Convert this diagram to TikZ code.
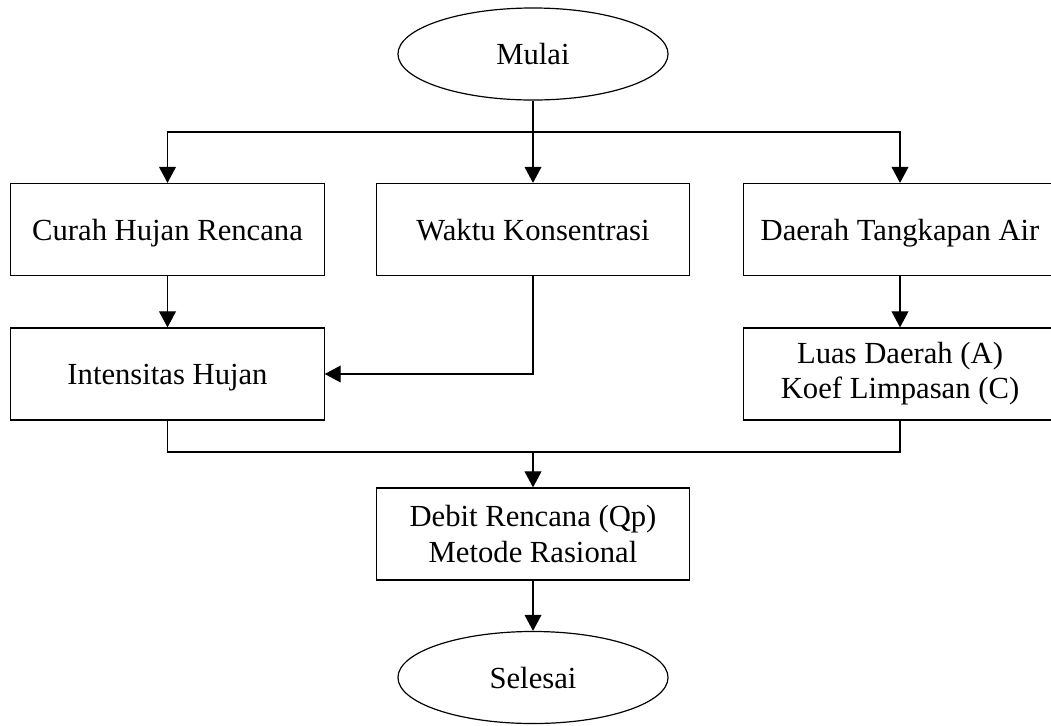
\documentclass[tikz,border=0pt]{standalone}
\usepackage{fontspec}
\setmainfont{Liberation Serif}
\usetikzlibrary{shapes.geometric,arrows.meta}

\begin{document}
\begin{tikzpicture}[x=0.025cm,y=-0.025cm,
        kotak/.style={draw,line width=0.85pt,minimum width=7.83cm,minimum height=2.3cm,align=center,inner sep=0pt},
        satu/.style={text height=19.6pt,text depth=4.4pt},
        oval/.style={draw,ellipse,line width=0.85pt,minimum width=6.75cm,minimum height=2.3cm,inner sep=0pt,satu},
        panah/.style={line width=0.85pt,-{Triangle[length=0.4cm,width=0.42cm]}},
        garis/.style={line width=0.85pt},
        font=\fontsize{21.8}{25}\selectfont]
                \useasboundingbox (0,0) rectangle (1051,725);
                
                \node[oval] (mulai) at (533,54) {Mulai}; % start
                
                \node[kotak,satu] (curah) at (167.5,229.5) {Curah Hujan Rencana};
                \node[kotak,satu] (waktu) at (533,229.5) {Waktu Konsentrasi};
                \node[kotak,satu] (daerah) at (900,229.5) {Daerah Tangkapan Air};
                
                \node[kotak,satu] (intensitas) at (167.5,374) {Intensitas Hujan};
                \node[kotak] (luas) at (900,374) {Luas Daerah (A)\\Koef Limpasan (C)};
                
                \node[kotak] (debit) at (533,534) {Debit Rencana (Qp)\\Metode Rasional};
                
                \node[oval] (selesai) at (533,677.5) {Selesai}; % end
                
                \coordinate (cabang) at (533,132); % split
                \coordinate (gabung) at (533,452); % join
                
                \draw[panah] (mulai) -- (waktu);
                \draw[panah] (cabang) -| (curah);
                \draw[panah] (cabang) -| (daerah);
                
                \draw[panah] (curah) -- (intensitas);
                \draw[panah] (daerah) -- (luas);
                \draw[panah] (waktu) |- (intensitas);
                
                \draw[garis] (intensitas) |- (gabung);
                \draw[garis] (luas) |- (gabung);
                \draw[panah] (gabung) -- (debit);
                
                \draw[panah] (debit) -- (selesai);
            \end{tikzpicture}
\end{document}
